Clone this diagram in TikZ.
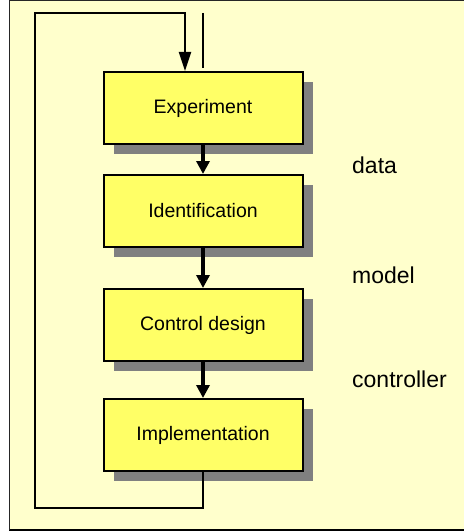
\documentclass[tikz,border=0pt]{standalone}
\usepackage{fontspec}
\setmainfont{Liberation Sans}
\usetikzlibrary{arrows.meta,shadows}
\definecolor{paper}{HTML}{FFFFCC}
\definecolor{boxfill}{HTML}{FFFF66}
\definecolor{shade}{HTML}{808080}
\tikzset{
  stagebox/.style={draw=black, line width=2pt, fill=boxfill,
    minimum width=199pt, minimum height=72pt, inner sep=0pt,
    font=\fontsize{19.5}{23}\selectfont,
    drop shadow={shadow xshift=10pt, shadow yshift=-10pt, fill=shade, opacity=1}},
  flow/.style={line width=4pt, -{Triangle[length=13pt,width=13pt]}},
  feedback/.style={line width=2pt},
  tag/.style={anchor=west, inner sep=0pt, font=\fontsize{23}{27}\selectfont}
}
\begin{document}
\begin{tikzpicture}[x=1pt, y=-1pt]
  \useasboundingbox (0,0) rectangle (463,532);
  % sheet background and frame
  \fill[white] (0,0) rectangle (463,532);
  \fill[paper] (9,0) rectangle (470,530);
  \draw[shade, line width=2pt] (9,530) -- (470,530);
  \draw[black!85, line width=1.5pt] (9.5,530) -- (9.5,0.75) -- (470,0.75);

  % process stages
  \node[stagebox] (exp)   at (203,108) {Experiment};
  \node[stagebox] (ident) at (203,211) {Identification};
  \node[stagebox] (ctrl)  at (203,325) {Control design};
  \node[stagebox] (impl)  at (203,435) {Implementation};

  % side labels
  \node[tag] (ldata)  at (352,165) {data};
  \node[tag] (lmodel) at (352,275) {model};
  \node[tag] (lctrl)  at (352,379) {controller};

  % forward flow
  \draw[flow] (exp.south) -- (ident.north);
  \draw[flow] (ident.south) -- (ctrl.north);
  \draw[flow] (ctrl.south) -- (impl.north);

  % entry line and feedback loop
  \coordinate (start) at (203,13);
  \coordinate (lb) at (35,508);
  \coordinate (lt) at (35,13);
  \draw[feedback] (start) -- ([yshift=3pt]exp.north);
  \draw[feedback, -{Triangle[length=19pt,width=12pt]}]
    (impl.south) |- (lb) -- (lt) -| ([xshift=-18pt]exp.north);
\end{tikzpicture}
\end{document}
